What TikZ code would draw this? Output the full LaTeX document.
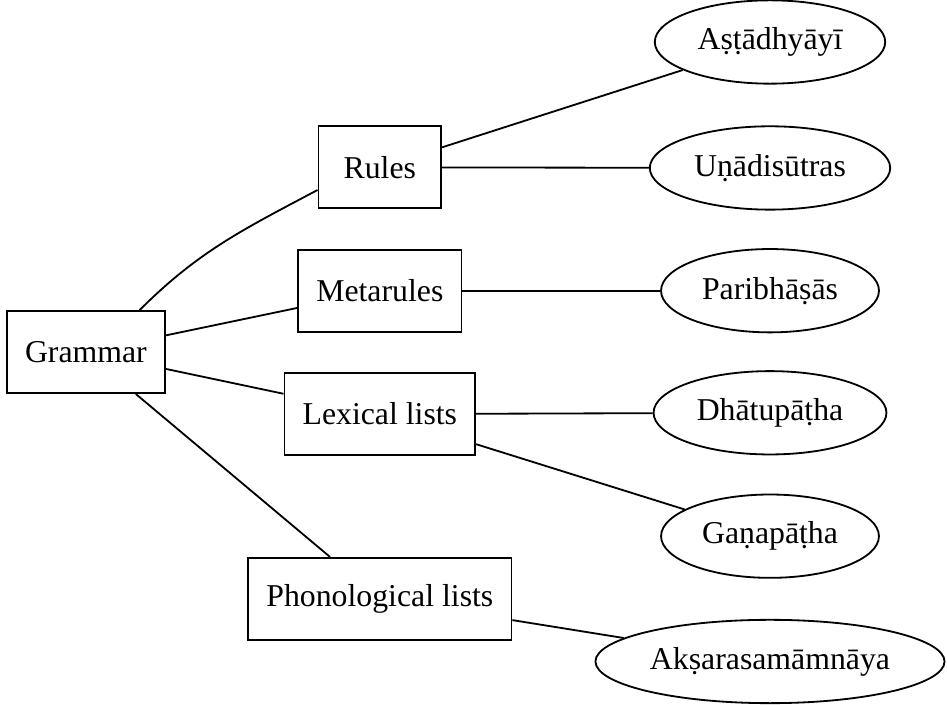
\documentclass[tikz,border=0pt]{standalone}
\usepackage{fontspec}
\setmainfont{Liberation Serif}
\usetikzlibrary{shapes.geometric}
\tikzset{
  part/.style={rectangle, draw, line width=0.8pt, minimum width=1.9cm,
    minimum height=1.27cm, inner xsep=8pt, font=\fontsize{14}{16}\selectfont},
  work/.style={ellipse, draw, line width=0.8pt, minimum height=1.29cm,
    inner xsep=4pt, inner ysep=0pt, font=\fontsize{14}{16}\selectfont},
  link/.style={line width=0.8pt},
}
\begin{document}
\begin{tikzpicture}
\useasboundingbox (0,0) rectangle (14.66,-10.90);
% left: the whole, middle: its parts
\node[part] (grammar) at (1.33,-5.45) {Grammar};
\node[part] (rules) at (5.88,-2.59) {Rules};
\node[part] (metarules) at (5.88,-4.50) {Metarules};
\node[part] (lexical) at (5.88,-6.41) {Lexical lists};
\node[part] (phono) at (5.88,-9.27) {Phonological lists};

% right: the texts
\node[work] (astadhyayi) at (11.92,-0.65) {Aṣṭādhyāyī};
\node[work] (unadi) at (11.92,-2.60) {Uṇādisūtras};
\node[work] (paribhasa) at (11.92,-4.50) {Paribhāṣās};
\node[work] (dhatupatha) at (11.92,-6.39) {Dhātupāṭha};
\node[work] (ganapatha) at (11.92,-8.30) {Gaṇapāṭha};
\node[work, inner xsep=1.5pt] (aksara) at (11.92,-10.24) {Akṣarasamāmnāya};

\draw[link] (grammar.38) to[out=45, in=208] (rules.200);
\draw[link] (grammar) -- (metarules);
\draw[link] (grammar) -- (lexical);
\draw[link] (grammar) -- (phono);

\draw[link] (rules) -- (astadhyayi);
\draw[link] (rules) -- (unadi);
\draw[link] (metarules) -- (paribhasa);
\draw[link] (lexical) -- (dhatupatha);
\draw[link] (lexical) -- (ganapatha);
\draw[link] (phono) -- (aksara);
\end{tikzpicture}
\end{document}
